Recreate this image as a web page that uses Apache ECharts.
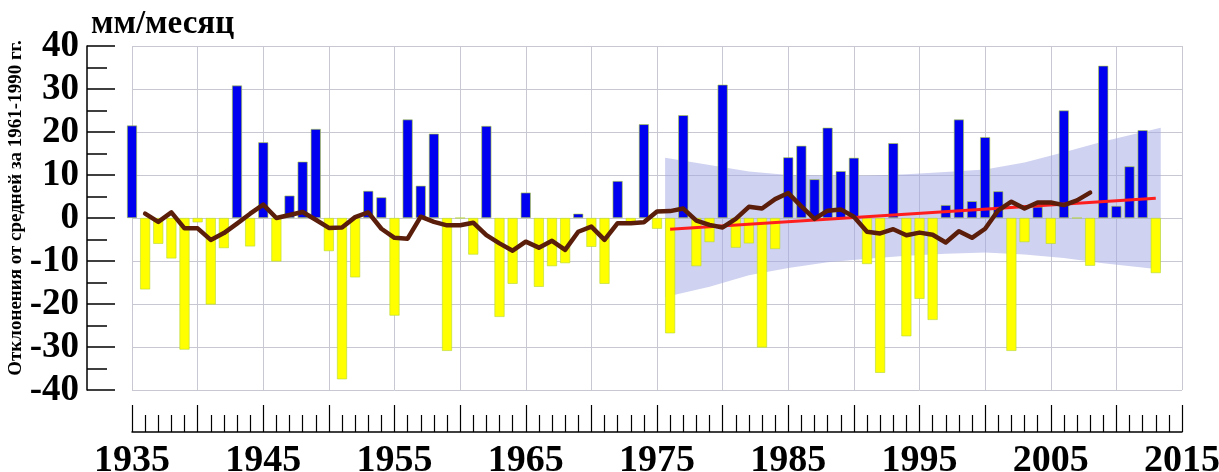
<!DOCTYPE html>
<html>
<head>
<meta charset="utf-8">
<script src="https://cdn.jsdelivr.net/npm/echarts@6/dist/echarts.min.js"></script>
<style>
html,body{margin:0;padding:0;background:#fff;}
#chart{width:1219px;height:472px;}
</style>
</head>
<body>
<div id="chart"></div>
<script>
// ---- data ----
const years = [];
for (let y = 1935; y <= 2013; y++) years.push(y);
const anomalies = [
  21.5, -16.6, -6.0, -9.4, -30.6, -1.0, -20.1, -7.0, 30.8, -6.6,
  17.6, -10.1, 5.2, 13.1, 20.7, -7.7, -37.5, -13.8, 6.3, 4.8,
  -22.7, 22.9, 7.5, 19.6, -30.9, 0, -8.5, 21.4, -23.0, -15.3,
  5.9, -16.0, -11.2, -10.5, 1.0, -6.7, -15.3, 8.6, -1.0, 21.8,
  -2.5, -26.8, 23.9, -11.2, -5.6, 31.0, -6.9, -5.9, -30.1, -7.2,
  14.1, 16.8, 9.0, 21.0, 10.9, 14.0, -10.7, -36.0, 17.4, -27.5,
  -18.8, -23.7, 3.0, 22.9, 3.9, 18.8, 6.2, -30.9, -5.6, 2.6,
  -6.0, 25.0, 0, -11.1, 35.4, 2.8, 12.0, 20.4, -12.8
];
const meanYears = [];
for (let y = 1936; y <= 2008; y++) meanYears.push(y);
const runningMean = [
  1.0, -0.9, 1.3, -2.4, -2.4, -5.1, -3.5, -1.3, 1.0, 3.1,
  0.0, 0.7, 1.4, -0.4, -2.3, -2.2, 0.2, 1.3, -2.5, -4.6,
  -4.8, 0.3, -0.9, -1.7, -1.7, -1.1, -4.0, -5.9, -7.6, -5.5,
  -6.9, -5.3, -7.4, -3.2, -2.0, -5.1, -1.2, -1.2, -1.0, 1.5,
  1.6, 2.2, -0.6, -1.6, -2.2, -0.2, 2.6, 2.2, 4.4, 5.8,
  2.7, -0.2, 1.7, 2.0, 0.3, -3.2, -3.6, -2.6, -4.0, -3.4,
  -3.9, -5.7, -3.1, -4.6, -2.5, 1.8, 3.8, 2.2, 3.6, 3.6,
  3.0, 4.1, 5.9
];
const trendYears = [1976, 2013];
const trendValues = [-2.6, 4.6];
const bandYears = [1976, 1979, 1982, 1985, 1988, 1991, 1994, 1997, 2000, 2003, 2006, 2009, 2013];
const bandUpper = [14.0, 12.3, 10.8, 10.0, 9.8, 9.8, 10.2, 10.7, 11.3, 12.9, 15.3, 17.8, 21.0];
const bandLower = [-18.4, -16.0, -13.3, -11.6, -10.3, -9.5, -8.8, -8.3, -8.0, -8.5, -9.3, -10.5, -12.0];
const yTicks = [-40, -30, -20, -10, 0, 10, 20, 30, 40];
const xLabelYears = [1935, 1945, 1955, 1965, 1975, 1985, 1995, 2005, 2015];
const titleText = 'мм/месяц';
const yAxisTitle = 'Отклонения от средней за 1961-1990 гг.';

// ---- chart ----
const serif = "'Liberation Serif','Times New Roman',serif";
const chart = echarts.init(document.getElementById('chart'), null, {renderer: 'canvas'});

const barData = years.map((y, i) => [y, anomalies[i]]);
const meanData = meanYears.map((y, i) => [y, runningMean[i]]);
const trendData = trendYears.map((y, i) => [y, trendValues[i]]);
const bandData = bandYears.map((y, i) => [y, bandUpper[i], bandLower[i]]);

chart.setOption({
  animation: false,
  backgroundColor: '#fff',
  title: {
    text: titleText,
    left: 86, top: 3,
    textStyle: {fontFamily: serif, fontWeight: 'bold', fontSize: 33, color: '#000'}
  },
  graphic: [{
    type: 'text', x: 16, y: 208, rotation: Math.PI / 2,
    style: {
      text: yAxisTitle, fontFamily: serif, fontWeight: 'bold', fontSize: 19,
      fill: '#000', align: 'center', verticalAlign: 'middle'
    }
  }],
  grid: {left: 132, right: 37, top: 46, bottom: 82, outerBoundsMode: 'none', containLabel: false},
  xAxis: {
    type: 'value', min: 1935, max: 2015, interval: 5,
    position: 'bottom', offset: 42,
    axisLine: {show: true, onZero: false, lineStyle: {color: '#000', width: 1.5}},
    axisTick: {show: true, inside: true, length: 27, lineStyle: {color: '#000', width: 1.2}},
    minorTick: {show: true, splitNumber: 5, length: 17, lineStyle: {color: '#000', width: 1.2}},
    axisLabel: {
      margin: 10, fontFamily: serif, fontWeight: 'bold', fontSize: 38, color: '#000',
      formatter: v => xLabelYears.indexOf(v) >= 0 ? String(v) : ''
    },
    splitLine: {show: true, lineStyle: {color: '#c8c8d2', width: 1}}
  },
  yAxis: {
    type: 'value', min: -40, max: 40, interval: 10,
    position: 'left', offset: 45,
    axisLine: {show: true, lineStyle: {color: '#000', width: 1.5}},
    axisTick: {show: true, inside: true, length: 28, lineStyle: {color: '#000', width: 1.5}},
    minorTick: {show: true, splitNumber: 2, length: 20, lineStyle: {color: '#000', width: 1.5}},
    axisLabel: {
      margin: 8, fontFamily: serif, fontWeight: 'bold', fontSize: 37, color: '#000',
      formatter: v => yTicks.indexOf(v) >= 0 ? String(v) : ''
    },
    splitLine: {show: true, lineStyle: {color: '#c8c8d2', width: 1}}
  },
  series: [
    {
      type: 'custom', silent: true, z: 1, clip: false,
      data: bandData,
      encode: {x: 0, y: [1, 2]},
      renderItem: function (params, api) {
        if (params.dataIndex !== 0) return null;
        const pad = 5, n = bandData.length;
        const up = [], lo = [];
        for (let i = 0; i < n; i++) {
          const a = api.coord([bandData[i][0], bandData[i][1]]);
          const b = api.coord([bandData[i][0], bandData[i][2]]);
          const dx = i === 0 ? -pad : (i === n - 1 ? pad : 0);
          up.push([a[0] + dx, a[1]]);
          lo.push([b[0] + dx, b[1]]);
        }
        const pts = up.concat(lo.reverse());
        return {
          type: 'polygon',
          shape: {points: pts},
          style: {fill: 'rgba(160,165,226,0.5)'}
        };
      }
    },
    {
      type: 'bar', data: barData, barWidth: 10, clip: false, z: 3,
      itemStyle: {
        color: p => p.value[1] >= 0 ? '#0000f0' : '#ffff00',
        borderColor: p => p.value[1] >= 0 ? '#0000f0' : '#e4dc20',
        borderWidth: 0.6
      }
    },
    {
      type: 'line', data: trendData, symbol: 'none', z: 4,
      lineStyle: {color: '#ff1e1e', width: 3}
    },
    {
      type: 'line', data: meanData, symbol: 'none', z: 5,
      lineStyle: {color: '#5a1e0a', width: 4.5, join: 'round', cap: 'round'}
    }
  ]
});
</script>
</body>
</html>
